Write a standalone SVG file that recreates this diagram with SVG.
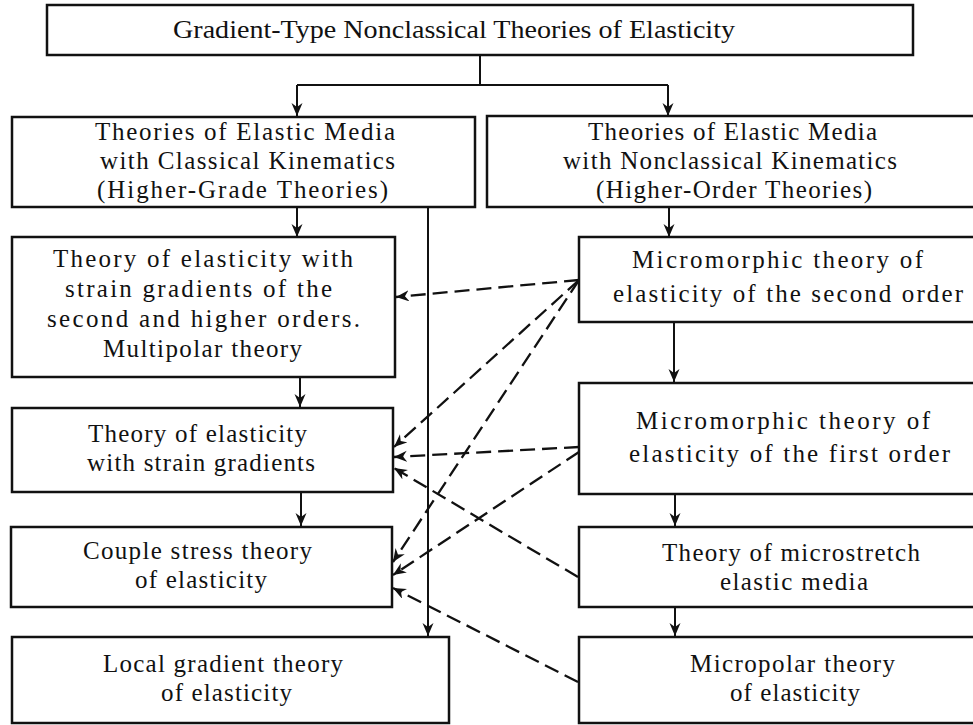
<svg xmlns="http://www.w3.org/2000/svg" width="973" height="725" viewBox="0 0 973 725">
<style>
.box{fill:#fff;stroke:#111;stroke-width:2.5}
.t{font-family:"Liberation Serif","Times New Roman",serif;font-size:25px;fill:#111}
.c{fill:none;stroke:#111;stroke-width:2}
.d{fill:none;stroke:#111;stroke-width:2.3;stroke-dasharray:15 7}
</style>
<defs>
<marker id="ah" markerUnits="userSpaceOnUse" markerWidth="16" markerHeight="12" refX="13" refY="5.5" orient="auto">
<path d="M0,0 L13,5.5 L0,11 L4,5.5 z" fill="#111"/>
</marker>
</defs>
<rect width="973" height="725" fill="#fff"/>
<g id="connectors">
<path class="c" d="M480,55 V85 M297,85 H668"/>
<line class="c" x1="297" y1="85" x2="297" y2="116" marker-end="url(#ah)"/>
<line class="c" x1="668" y1="85" x2="668" y2="116" marker-end="url(#ah)"/>
<line class="c" x1="297" y1="207" x2="297" y2="237" marker-end="url(#ah)"/>
<line class="c" x1="669" y1="207" x2="669" y2="237" marker-end="url(#ah)"/>
<line class="c" x1="428" y1="207" x2="428" y2="636" marker-end="url(#ah)"/>
<line class="c" x1="300" y1="377" x2="300" y2="407" marker-end="url(#ah)"/>
<line class="c" x1="301" y1="492" x2="301" y2="526" marker-end="url(#ah)"/>
<line class="c" x1="674" y1="322" x2="674" y2="382" marker-end="url(#ah)"/>
<line class="c" x1="675" y1="494" x2="675" y2="526" marker-end="url(#ah)"/>
<line class="c" x1="675" y1="607" x2="675" y2="636" marker-end="url(#ah)"/>
<line class="d" x1="579" y1="280" x2="396" y2="297" marker-end="url(#ah)"/>
<line class="d" x1="579" y1="280" x2="394" y2="447" marker-end="url(#ah)"/>
<line class="d" x1="579" y1="280" x2="393" y2="562" marker-end="url(#ah)"/>
<line class="d" x1="579" y1="447" x2="394" y2="457" marker-end="url(#ah)"/>
<line class="d" x1="579" y1="452" x2="393" y2="575" marker-end="url(#ah)"/>
<line class="d" x1="578" y1="577" x2="394" y2="468" marker-end="url(#ah)"/>
<line class="d" x1="578" y1="682" x2="393" y2="588" marker-end="url(#ah)"/>
</g>
<g id="n-root">
<rect class="box" x="47" y="5" width="866" height="50"/>
<text class="t" x="173" y="38" textLength="562" lengthAdjust="spacingAndGlyphs" style="font-size:26px">Gradient-Type Nonclassical Theories of Elasticity</text>
</g>
<g id="n-classical">
<rect class="box" x="12" y="117" width="463" height="90"/>
<text class="t" x="95" y="140" textLength="300" lengthAdjust="spacing">Theories of Elastic Media</text>
<text class="t" x="100" y="169" textLength="295" lengthAdjust="spacing">with Classical Kinematics</text>
<text class="t" x="97" y="198" textLength="291" lengthAdjust="spacing">(Higher-Grade Theories)</text>
</g>
<g id="n-nonclassical">
<rect class="box" x="487" y="116" width="493" height="91"/>
<text class="t" x="588" y="140" textLength="289" lengthAdjust="spacing">Theories of Elastic Media</text>
<text class="t" x="563" y="169" textLength="334" lengthAdjust="spacing">with Nonclassical Kinematics</text>
<text class="t" x="596" y="198" textLength="276" lengthAdjust="spacing">(Higher-Order Theories)</text>
</g>
<g id="n-multipolar">
<rect class="box" x="12" y="237" width="383" height="140"/>
<text class="t" x="53" y="267" textLength="300" lengthAdjust="spacing">Theory of elasticity with</text>
<text class="t" x="65" y="297" textLength="267" lengthAdjust="spacing">strain gradients of the</text>
<text class="t" x="47" y="327" textLength="313" lengthAdjust="spacing">second and higher orders.</text>
<text class="t" x="103" y="357" textLength="199" lengthAdjust="spacing">Multipolar theory</text>
</g>
<g id="n-straingrad">
<rect class="box" x="12" y="408" width="381" height="84"/>
<text class="t" x="88" y="442" textLength="219" lengthAdjust="spacing">Theory of elasticity</text>
<text class="t" x="87" y="471" textLength="228" lengthAdjust="spacing">with strain gradients</text>
</g>
<g id="n-couple">
<rect class="box" x="11" y="527" width="381" height="80"/>
<text class="t" x="83" y="559" textLength="229" lengthAdjust="spacing">Couple stress theory</text>
<text class="t" x="135" y="588" textLength="132" lengthAdjust="spacing">of elasticity</text>
</g>
<g id="n-local">
<rect class="box" x="12" y="637" width="437" height="86"/>
<text class="t" x="103" y="672" textLength="240" lengthAdjust="spacing">Local gradient theory</text>
<text class="t" x="161" y="701" textLength="131" lengthAdjust="spacing">of elasticity</text>
</g>
<g id="n-micro2">
<rect class="box" x="579" y="237" width="401" height="85"/>
<text class="t" x="632" y="268" textLength="291" lengthAdjust="spacing">Micromorphic theory of</text>
<text class="t" x="613" y="302" textLength="350" lengthAdjust="spacing">elasticity of the second order</text>
</g>
<g id="n-micro1">
<rect class="box" x="579" y="383" width="401" height="111"/>
<text class="t" x="636" y="429" textLength="294" lengthAdjust="spacing">Micromorphic theory of</text>
<text class="t" x="629" y="462" textLength="321" lengthAdjust="spacing">elasticity of the first order</text>
</g>
<g id="n-microstretch">
<rect class="box" x="579" y="527" width="401" height="80"/>
<text class="t" x="662" y="561" textLength="258" lengthAdjust="spacing">Theory of microstretch</text>
<text class="t" x="720" y="590" textLength="148" lengthAdjust="spacing">elastic media</text>
</g>
<g id="n-micropolar">
<rect class="box" x="579" y="637" width="401" height="86"/>
<text class="t" x="690" y="672" textLength="205" lengthAdjust="spacing">Micropolar theory</text>
<text class="t" x="730" y="701" textLength="130" lengthAdjust="spacing">of elasticity</text>
</g>
</svg>
